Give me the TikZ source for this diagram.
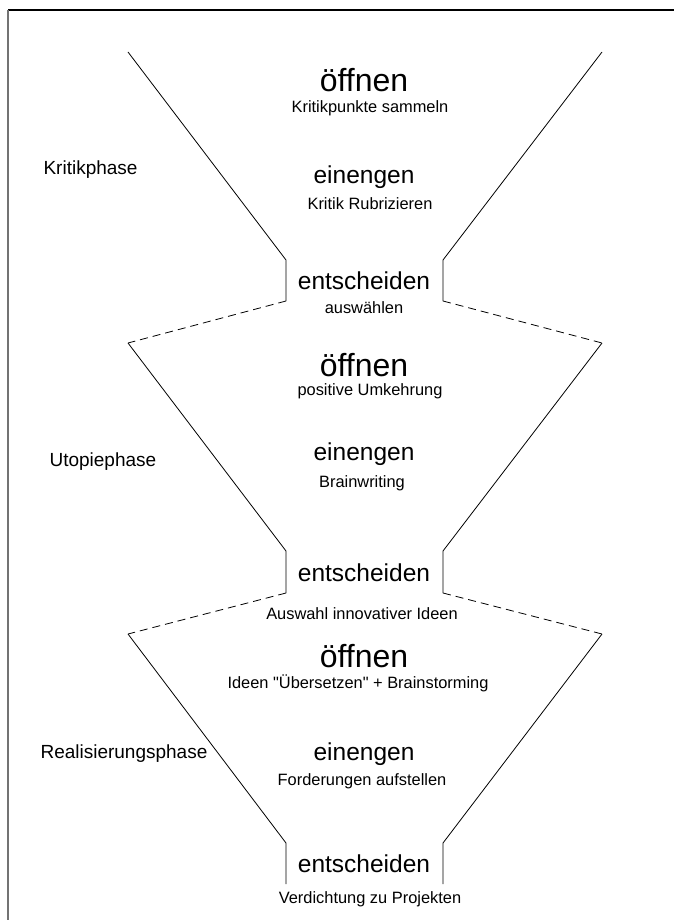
\documentclass[tikz,border=0pt]{standalone}
\usepackage{fontspec}
\setmainfont{Liberation Sans}
\usepackage{tikz}
\usetikzlibrary{
    calc,
    positioning
}
\tikzset{
    openverb/.style={font=\fontsize{32}{36}\selectfont},
    verb/.style={font=\fontsize{24.5}{28}\selectfont},
    method/.style={font=\fontsize{16.4}{19}\selectfont},
    phase/.style={font=\fontsize{19}{22}\selectfont, anchor=west},
    funnel/.style={line width=0.8pt},
    link/.style={line width=0.8pt, dash pattern=on 8pt off 5pt}
}

\begin{document}
\begin{tikzpicture}[x=1pt, y=-1pt]
        \useasboundingbox (0,0) rectangle (674,920);
        \draw[line width=1.6pt] (8,10) -- (674,10);
        \draw[line width=2.2pt, black!55] (8,10) -- (8,920);

        % funnel corners
        \coordinate (l1) at (128,52);  \coordinate (r1) at (602,52);
        \coordinate (lk1) at (286,260); \coordinate (rk1) at (443,260);
        \coordinate (lb1) at (286,301); \coordinate (rb1) at (443,301);
        \coordinate (l2) at (128,343); \coordinate (r2) at (602,343);
        \coordinate (lk2) at (286,551); \coordinate (rk2) at (443,551);
        \coordinate (lb2) at (286,593); \coordinate (rb2) at (443,593);
        \coordinate (l3) at (128,634); \coordinate (r3) at (602,634);
        \coordinate (lk3) at (286,843); \coordinate (rk3) at (443,843);
        \coordinate (lb3) at (286,884); \coordinate (rb3) at (443,884);

        \draw[funnel] (l1) -- (lk1) -- (lb1);
        \draw[funnel] (r1) -- (rk1) -- (rb1);
        \draw[link] (lb1) -- (l2);
        \draw[link] (rb1) -- (r2);
        \draw[funnel] (l2) -- (lk2) -- (lb2);
        \draw[funnel] (r2) -- (rk2) -- (rb2);
        \draw[link] (lb2) -- (l3);
        \draw[link] (rb2) -- (r3);
        \draw[funnel] (l3) -- (lk3) -- (lb3);
        \draw[funnel] (r3) -- (rk3) -- (rb3);

        \draw (40,170) node[phase](kritik){Kritikphase};
        \draw (46,462) node[phase](utopie){Utopiephase};
        \draw (37,754) node[phase](real){Realisierungsphase};

        \draw (364,80) node[openverb](open1){öffnen};
        \draw (370,108) node[method](sammeln){Kritikpunkte sammeln};
        \draw (364,177) node[verb](narrow1){einengen};
        \draw (370,204) node[method](rubrik){Kritik Rubrizieren};
        \draw (364,281) node[verb](decide1){entscheiden};
        \draw (364,308) node[method](waehlen){auswählen};

        \draw (364,365) node[openverb](open2){öffnen};
        \draw (370,391) node[method](umkehr){positive Umkehrung};
        \draw (364,454) node[verb](narrow2){einengen};
        \draw (362,483) node[method](bwriting){Brainwriting};
        \draw (364,573) node[verb](decide2){entscheiden};
        \draw (362,614) node[method](auswahl){Auswahl innovativer Ideen};

        \draw (364,656) node[openverb](open3){öffnen};
        \draw (358,683) node[method](uebers){Ideen \textquotedbl Übersetzen\textquotedbl{} + Brainstorming};
        \draw (364,754) node[verb](narrow3){einengen};
        \draw (362,781) node[method](forder){Forderungen aufstellen};
        \draw (364,864) node[verb](decide3){entscheiden};
        \draw (370,899) node[method](verdicht){Verdichtung zu Projekten};
    \end{tikzpicture}
\end{document}
